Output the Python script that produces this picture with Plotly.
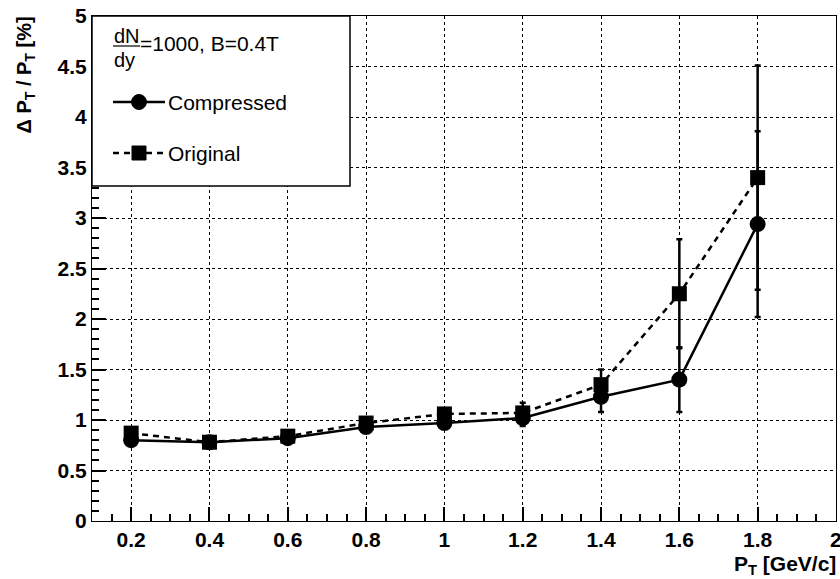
import plotly.graph_objects as go

pt = [0.2, 0.4, 0.6, 0.8, 1.0, 1.2, 1.4, 1.6, 1.8]
compressed = [0.80, 0.78, 0.82, 0.93, 0.97, 1.02, 1.23, 1.40, 2.94]
compressed_err = [0.03, 0.03, 0.03, 0.03, 0.04, 0.08, 0.15, 0.32, 0.92]
original = [0.87, 0.78, 0.84, 0.97, 1.06, 1.07, 1.35, 2.25, 3.40]
original_err = [0.03, 0.03, 0.03, 0.04, 0.05, 0.10, 0.15, 0.54, 1.11]

x_ticks = [0.2, 0.4, 0.6, 0.8, 1.0, 1.2, 1.4, 1.6, 1.8, 2.0]
x_labels = ["0.2", "0.4", "0.6", "0.8", "1", "1.2", "1.4", "1.6", "1.8", "2"]
y_ticks = [0, 0.5, 1, 1.5, 2, 2.5, 3, 3.5, 4, 4.5, 5]
y_labels = ["0", "0.5", "1", "1.5", "2", "2.5", "3", "3.5", "4", "4.5", "5"]

FONT = "Liberation Sans, Arial, sans-serif"
W, H = 840, 579
L, R, T, B = 92, 4, 16, 58

fig = go.Figure()
fig.add_trace(go.Scatter(
    x=pt, y=original, mode="lines+markers", name="Original",
    line=dict(color="black", width=2.5, dash="6px,5px"),
    marker=dict(symbol="square", size=15, color="black"),
    error_y=dict(type="data", array=original_err, color="black", thickness=2.5, width=3),
    showlegend=False))
fig.add_trace(go.Scatter(
    x=pt, y=compressed, mode="lines+markers", name="Compressed",
    line=dict(color="black", width=2.5),
    marker=dict(symbol="circle", size=16, color="black"),
    error_y=dict(type="data", array=compressed_err, color="black", thickness=2.5, width=3),
    showlegend=False))

axis_common = dict(
    showline=True, linecolor="black", linewidth=1, mirror=True,
    ticks="inside", ticklen=14, tickcolor="black", tickwidth=1.5,
    showgrid=True, gridcolor="black", griddash="dot", gridwidth=1,
    zeroline=False, ticklabeloverflow="allow", automargin=False,
    tickfont=dict(family=FONT, size=21, color="black", weight="bold"),
)
fig.update_xaxes(range=[0.1, 2.0001], tickvals=x_ticks, ticktext=x_labels,
                 minor=dict(dtick=0.05, tick0=0, ticks="inside", ticklen=7, tickcolor="black", showgrid=False),
                 **axis_common)
fig.update_yaxes(range=[0, 5.0001], tickvals=y_ticks, ticktext=y_labels,
                 minor=dict(dtick=0.1, tick0=0, ticks="inside", ticklen=7, tickcolor="black", showgrid=False),
                 **axis_common)

pw = W - L - R
ph = H - T - B
def px(x):
    return (x - L) / pw
def py(y):
    return 1 - (y - T) / ph

shapes = []
shapes.append(dict(type="rect", xref="paper", yref="paper", x0=px(92), x1=px(350), y0=py(186), y1=py(16),
                   line=dict(color="black", width=1.5), fillcolor="white", layer="above"))
shapes.append(dict(type="line", xref="paper", yref="paper", x0=px(113), x1=px(140), y0=py(46), y1=py(46),
                   line=dict(color="black", width=1.2), layer="above"))
shapes.append(dict(type="line", xref="paper", yref="paper", x0=px(113), x1=px(165), y0=py(102), y1=py(102),
                   line=dict(color="black", width=2.5), layer="above"))
shapes.append(dict(type="circle", xref="paper", yref="paper", x0=px(131.5), x1=px(146.5), y0=py(109.5), y1=py(94.5),
                   line=dict(color="black", width=1), fillcolor="black", layer="above"))
shapes.append(dict(type="line", xref="paper", yref="paper", x0=px(113), x1=px(165), y0=py(153), y1=py(153),
                   line=dict(color="black", width=2.5, dash="6px,5px"), layer="above"))
shapes.append(dict(type="rect", xref="paper", yref="paper", x0=px(132), x1=px(146), y0=py(160), y1=py(146),
                   line=dict(color="black", width=1), fillcolor="black", layer="above"))

def ann(text, x, y, size, xanchor="left", yanchor="middle", angle=0):
    return dict(text=text, x=px(x), y=py(y), xanchor=xanchor, yanchor=yanchor, showarrow=False,
                textangle=angle, xref="paper", yref="paper",
                font=dict(family=FONT, size=size, color="black"))

annotations = [
    ann("dN", 112, 36, 20),
    ann("dy", 112, 60, 20),
    ann("=1000, B=0.4T", 138, 43, 21),
    ann("Compressed", 166, 102, 21),
    ann("Original", 166, 153, 21),
    ann("<b>P<sub>T</sub> [GeV/c]</b>", 838, 565, 21, xanchor="right"),
    ann("<b>Δ P<sub>T</sub> / P<sub>T</sub> [%]</b>", 25, 15, 20, xanchor="center", yanchor="top", angle=-90),
]

fig.update_layout(
    width=W, height=H,
    margin=dict(l=L, r=R, t=T, b=B),
    paper_bgcolor="white", plot_bgcolor="white",
    shapes=shapes, annotations=annotations,
    showlegend=False,
)

fig.write_html("out.html")
